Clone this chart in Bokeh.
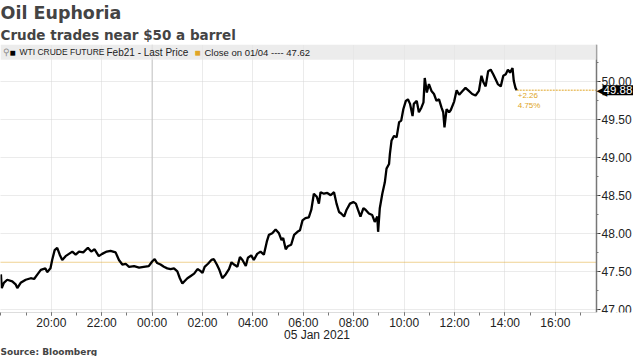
import pandas as pd
from bokeh.plotting import figure
from bokeh.models import (Range1d, FixedTicker, DatetimeTickFormatter, Span, Label, Title,
                          BoxAnnotation, NumeralTickFormatter, SingleIntervalTicker)
from bokeh.embed import file_html
from bokeh.resources import INLINE

# ---------------- data ----------------
series_start = "2021-01-04 18:00"
minutes = [0, 2, 7, 15, 27, 35, 39, 47, 59, 71, 79, 87, 95, 106, 110, 118, 122, 128, 134, 140,
           146, 154, 162, 170, 178, 186, 196, 207, 215, 223, 233, 241, 252, 261, 273, 281, 289,
           297, 305, 317, 329, 340, 352, 360, 366, 372, 380, 388, 396, 404, 412, 420, 426, 432,
           437, 444, 452, 460, 468, 474, 480, 485, 493, 501, 507, 514, 520, 527, 535, 543, 549,
           555, 563, 569, 575, 583, 588, 596, 602, 610, 618, 626, 633, 638, 646, 654, 662, 668,
           672, 678, 683, 691, 698, 706, 712, 718, 725, 733, 739, 745, 752, 757, 761, 769, 777,
           785, 793, 799, 805, 810, 817, 823, 831, 839, 845, 850, 856, 863, 868, 876, 884, 890,
           896, 898, 902, 908, 914, 918, 924, 926, 930, 936, 942, 948, 953, 958, 964, 969, 974,
           980, 983, 990, 995, 1001, 1006, 1009, 1014, 1019, 1025, 1031, 1037, 1043, 1049, 1053,
           1056, 1061, 1067, 1071, 1079, 1085, 1091, 1099, 1106, 1114, 1122, 1130, 1138, 1144,
           1149, 1154, 1160, 1166, 1172, 1178, 1183, 1190, 1196, 1202, 1207, 1212, 1218, 1221,
           1225, 1228]
prices = [47.46, 47.28, 47.35, 47.39, 47.37, 47.33, 47.28, 47.35, 47.39, 47.41, 47.40, 47.46,
          47.52, 47.54, 47.49, 47.54, 47.65, 47.78, 47.81, 47.72, 47.65, 47.70, 47.73, 47.76,
          47.72, 47.76, 47.75, 47.81, 47.76, 47.79, 47.70, 47.73, 47.76, 47.77, 47.75, 47.65,
          47.59, 47.60, 47.56, 47.57, 47.55, 47.56, 47.57, 47.63, 47.66, 47.61, 47.59, 47.56,
          47.54, 47.53, 47.54, 47.50, 47.41, 47.34, 47.37, 47.41, 47.44, 47.47, 47.53, 47.51,
          47.48, 47.56, 47.60, 47.65, 47.66, 47.59, 47.52, 47.41, 47.46, 47.53, 47.62, 47.59,
          47.56, 47.69, 47.65, 47.57, 47.68, 47.71, 47.65, 47.73, 47.76, 47.72, 47.89, 47.98,
          48.00, 48.05, 48.00, 47.91, 47.94, 47.79, 47.83, 47.85, 47.98, 48.02, 48.04, 48.17,
          48.20, 48.21, 48.31, 48.52, 48.48, 48.39, 48.54, 48.52, 48.53, 48.50, 48.54, 48.39,
          48.28, 48.26, 48.22, 48.31, 48.39, 48.41, 48.39, 48.31, 48.22, 48.33, 48.31, 48.26,
          48.24, 48.15, 48.22, 48.02, 48.33, 48.52, 48.67, 48.85, 48.91, 49.04, 49.22, 49.28,
          49.26, 49.46, 49.48, 49.63, 49.74, 49.76, 49.70, 49.54, 49.70, 49.74, 49.59, 49.65,
          49.72, 50.04, 49.85, 49.96, 49.87, 49.83, 49.74, 49.76, 49.65, 49.59, 49.39, 49.63,
          49.59, 49.62, 49.73, 49.88, 49.82, 49.87, 49.91, 49.87, 49.83, 49.81, 49.87, 50.07,
          49.98, 49.93, 50.13, 50.15, 50.09, 50.02, 49.96, 49.93, 50.07, 50.09, 50.15, 50.11,
          50.17, 50.00, 49.91, 49.88]
prev_close = 47.62
prev_close_label = "Close on 01/04"
series_ticker = "WTI CRUDE FUTURE"
series_field = "Feb21 - Last Price"
major_tick_times = ["2021-01-04 20:00", "2021-01-04 22:00", "2021-01-05 00:00", "2021-01-05 02:00",
                    "2021-01-05 04:00", "2021-01-05 06:00", "2021-01-05 08:00", "2021-01-05 10:00",
                    "2021-01-05 12:00", "2021-01-05 14:00", "2021-01-05 16:00"]
day_label = "05 Jan 2021"
axis_window = ("2021-01-04 17:59", "2021-01-05 17:38")   # span of the time axis
view_end = "2021-01-05 19:06"                            # room for the price scale
y_window = (46.96, 50.48)
band_bottom = 50.28

# ---------------- helpers ----------------
def ms(t):
    return pd.Timestamp(t).value // 10**6

t0 = pd.Timestamp(series_start)
times = [t0 + pd.Timedelta(minutes=m) for m in minutes]
last = prices[-1]
chg = last - prev_close
pct = chg / prev_close * 100
x_axis_end = ms(axis_window[1])

GOLD = "#e0a526"
GRID = "#d6d6d6"
FONT = "Liberation Sans"

p = figure(width=633, height=356, x_axis_type="datetime", y_axis_location="right",
           output_backend="svg", toolbar_location=None, title=None,
           x_range=Range1d(ms(axis_window[0]), ms(view_end)),
           y_range=Range1d(*y_window))
p.min_border_left = 0
p.min_border_top = 0
p.min_border_bottom = 2
p.min_border_right = 0
p.outline_line_color = None
p.background_fill_color = "white"

# x axis
major = [ms(t) for t in major_tick_times]
minor = [ms(t) for t in pd.date_range(axis_window[0], axis_window[1], freq="h").ceil("h")]
p.xaxis.ticker = FixedTicker(ticks=major, minor_ticks=minor)
p.xaxis.bounds = (ms(axis_window[0]), x_axis_end)
p.xaxis.formatter = DatetimeTickFormatter(hours="%H:%M", days="%H:%M", hourmin="%H:%M",
                                          minutes="%H:%M")
p.xaxis.axis_label = day_label
p.xaxis.axis_label_text_font = FONT
p.xaxis.axis_label_text_font_size = "12px"
p.xaxis.axis_label_text_font_style = "normal"
p.xaxis.axis_label_text_color = "#222222"
p.xaxis.axis_label_standoff = -5
p.xaxis.major_label_text_font = FONT
p.xaxis.major_label_text_font_size = "12px"
p.xaxis.major_label_text_color = "#222222"
p.xaxis.major_label_standoff = 0
p.xaxis.axis_line_color = "#dddddd"
p.xaxis.major_tick_line_color = "#555555"
p.xaxis.minor_tick_line_color = "#777777"
p.xaxis.major_tick_in = 0
p.xaxis.major_tick_out = 3
p.xaxis.minor_tick_in = 0
p.xaxis.minor_tick_out = 3

# y axis (price scale, drawn at the end of the time axis)
p.yaxis.fixed_location = x_axis_end
p.yaxis.ticker = SingleIntervalTicker(interval=0.5, num_minor_ticks=2)
p.yaxis.formatter = NumeralTickFormatter(format="0.00")
p.yaxis.major_label_text_font = FONT
p.yaxis.major_label_text_font_size = "12px"
p.yaxis.major_label_text_color = "#222222"
p.yaxis.major_label_standoff = 1
p.yaxis.axis_line_color = "#777777"
p.yaxis.axis_line_width = 1.5
p.yaxis.major_tick_line_color = "#333333"
p.yaxis.minor_tick_line_color = "#777777"
p.yaxis.major_tick_in = 0
p.yaxis.major_tick_out = 4
p.yaxis.minor_tick_in = 0
p.yaxis.minor_tick_out = 2

# grids
for g in (p.xgrid, p.ygrid):
    g.grid_line_color = GRID
    g.grid_line_dash = "1 1"
p.xgrid.ticker = FixedTicker(ticks=major)
p.add_layout(Span(location=ms("2021-01-05 00:00"), dimension="height",
                  line_color="#c4c4c4", line_width=1, level="underlay"))

# previous close line
p.add_layout(Span(location=prev_close, dimension="width", line_color=GOLD,
                  line_width=1, line_dash="1 1", level="underlay"))

# blank area to the right of the price scale
p.add_layout(BoxAnnotation(left=x_axis_end, fill_color="white", fill_alpha=1.0,
                           line_color=None, level="glyph"))

# legend band
p.add_layout(BoxAnnotation(bottom=band_bottom, right=x_axis_end, fill_color="#e6e6e6",
                           fill_alpha=0.75, line_color=None))
band_y = (band_bottom + y_window[1]) / 2
band_items = [
    ("\u26b2", 2, "#888888", "9px"),
    ("\u25a0", 9, "black", "10px"),
    (series_ticker, 19, "#222222", "8.5px"),
    (series_field, 106, "#222222", "10px"),
    ("\u25a0", 194, GOLD, "10px"),
    (f"{prev_close_label} ---- {prev_close:.2f}", 204, "#222222", "9.5px"),
]
for txt, xs, col, fs in band_items:
    p.add_layout(Label(x=xs, y=band_y, x_units="screen", y_units="data", text=txt,
                       text_font=FONT, text_font_size=fs,
                       text_color=col, text_baseline="middle"))

# price line
p.line(times, prices, line_color="black", line_width=2.3)

# last price extension
p.segment(x0=[times[-1]], y0=[last], x1=[x_axis_end], y1=[last],
          line_color=GOLD, line_width=1, line_dash="2 1")
p.add_layout(Label(x=times[-1], y=last, x_offset=1, y_offset=-3, text=f"+{chg:.2f}",
                   text_font=FONT, text_font_size="8px", text_color=GOLD,
                   text_baseline="top"))
p.add_layout(Label(x=times[-1], y=last, x_offset=1, y_offset=-11, text=f"{pct:.2f}%",
                   text_font=FONT, text_font_size="8px", text_color=GOLD,
                   text_baseline="top"))

# price tag on the scale
p.add_layout(Label(x=x_axis_end, y=last, x_offset=0, text="\u25c0",
                   text_font="DejaVu Sans", text_font_size="14px", text_color="black",
                   text_baseline="middle"))
p.add_layout(Label(x=x_axis_end, y=last, x_offset=6, text=f"{last:.2f}",
                   text_font=FONT, text_font_size="11.5px", text_color="white",
                   text_baseline="middle", background_fill_color="black", padding=1))

# titles
p.add_layout(Title(text="Crude trades near $50 a barrel", text_font="DejaVu Sans",
                   text_font_size="13.5px", text_font_style="bold", standoff=3, offset=0), "above")
p.add_layout(Title(text="Oil Euphoria", text_font="DejaVu Sans", text_font_size="17.5px",
                   text_font_style="bold", standoff=1, offset=0), "above")
p.add_layout(Title(text="Source: Bloomberg", text_font="DejaVu Sans", text_font_size="9px",
                   text_font_style="bold", standoff=0, offset=0), "below")

open("out.html", "w").write(file_html(p, INLINE))
